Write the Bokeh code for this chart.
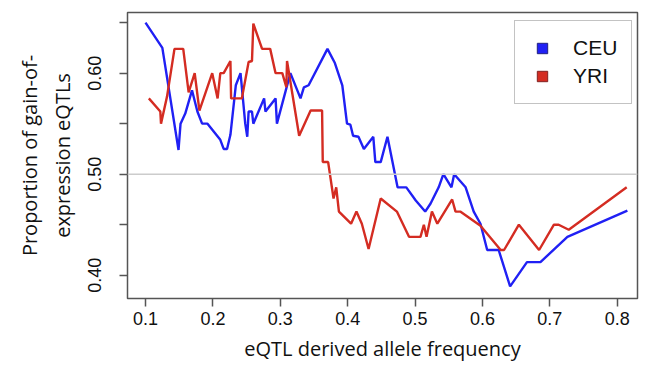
from bokeh.plotting import figure
from bokeh.models import Range1d, FixedTicker, Span, Legend, LegendItem
from bokeh.embed import file_html
from bokeh.resources import INLINE

ceu_freq = [0.100, 0.125, 0.149, 0.152, 0.159, 0.169, 0.177, 0.184, 0.192, 0.211,
            0.216, 0.221, 0.226, 0.234, 0.241, 0.248, 0.251, 0.253, 0.258, 0.260,
            0.276, 0.278, 0.293, 0.295, 0.315, 0.330, 0.335, 0.342, 0.370, 0.381,
            0.392, 0.399, 0.404, 0.408, 0.416, 0.424, 0.438, 0.441, 0.449, 0.459,
            0.474, 0.487, 0.501, 0.515, 0.523, 0.535, 0.542, 0.554, 0.558, 0.575,
            0.587, 0.597, 0.607, 0.624, 0.641, 0.666, 0.686, 0.726, 0.815]
ceu_prop = [0.650, 0.625, 0.524, 0.550, 0.560, 0.583, 0.562, 0.550, 0.550, 0.534,
            0.525, 0.525, 0.539, 0.588, 0.600, 0.550, 0.537, 0.562, 0.562, 0.550,
            0.575, 0.562, 0.575, 0.550, 0.600, 0.575, 0.586, 0.588, 0.624, 0.610,
            0.588, 0.550, 0.549, 0.538, 0.537, 0.525, 0.537, 0.512, 0.512, 0.537,
            0.487, 0.487, 0.474, 0.463, 0.471, 0.487, 0.500, 0.487, 0.500, 0.487,
            0.463, 0.451, 0.425, 0.425, 0.389, 0.413, 0.413, 0.438, 0.464]

yri_freq = [0.105, 0.122, 0.123, 0.132, 0.143, 0.156, 0.164, 0.173, 0.180, 0.199,
            0.207, 0.211, 0.216, 0.226, 0.227, 0.243, 0.253, 0.258, 0.260, 0.273,
            0.285, 0.293, 0.303, 0.309, 0.310, 0.328, 0.345, 0.362, 0.363, 0.371,
            0.379, 0.383, 0.387, 0.405, 0.413, 0.421, 0.431, 0.449, 0.473, 0.491,
            0.508, 0.513, 0.517, 0.525, 0.533, 0.555, 0.560, 0.567, 0.597, 0.627,
            0.632, 0.654, 0.684, 0.706, 0.713, 0.728, 0.814]
yri_prop = [0.575, 0.562, 0.550, 0.577, 0.624, 0.624, 0.581, 0.600, 0.563, 0.600,
            0.575, 0.600, 0.600, 0.612, 0.575, 0.575, 0.611, 0.612, 0.649, 0.624,
            0.624, 0.600, 0.600, 0.586, 0.612, 0.538, 0.563, 0.563, 0.512, 0.512,
            0.476, 0.487, 0.463, 0.451, 0.463, 0.451, 0.426, 0.476, 0.463, 0.438,
            0.438, 0.450, 0.438, 0.463, 0.451, 0.475, 0.463, 0.463, 0.449, 0.425,
            0.425, 0.450, 0.425, 0.450, 0.450, 0.445, 0.487]

x_ticks = [0.1, 0.2, 0.3, 0.4, 0.5, 0.6, 0.7, 0.8]
y_ticks = [0.40, 0.45, 0.50, 0.55, 0.60, 0.65]
y_tick_labels = {0.40: "0.40", 0.45: "", 0.50: "0.50", 0.55: "", 0.60: "0.60", 0.65: ""}

BLUE = "#2020f4"
RED = "#d42c22"

p = figure(frame_width=510, frame_height=286, output_backend="svg", toolbar_location=None,
           x_range=Range1d(0.0733, 0.830), y_range=Range1d(0.377, 0.660),
           min_border_left=127, min_border_right=2, min_border_top=12, min_border_bottom=50)
p.background_fill_color = "white"
p.border_fill_color = "white"
p.outline_line_color = "#555555"
p.outline_line_width = 1.5
p.xgrid.visible = False
p.ygrid.visible = False

p.add_layout(Span(location=0.5, dimension="width", line_color="#cccccc", line_width=1.5))

p.line(ceu_freq, ceu_prop, line_color=BLUE, line_width=2.4)
p.line(yri_freq, yri_prop, line_color=RED, line_width=2.4)

# legend swatches: a single point each, placed outside the visible range
sq_ceu = p.scatter([0.0], [0.0], marker="square", size=17, fill_color=BLUE, line_color="#202080")
sq_yri = p.scatter([0.0], [0.0], marker="square", size=17, fill_color=RED, line_color="#802020")

legend = Legend(items=[LegendItem(label="CEU", renderers=[sq_ceu]),
                       LegendItem(label="YRI", renderers=[sq_yri])],
                location=(387, 194), margin=0, padding=14, spacing=2,
                label_height=26, glyph_height=26, glyph_width=26, label_standoff=18,
                label_text_font="Liberation Sans", label_text_font_size="21px",
                label_text_color="#111111",
                border_line_color="#888888", border_line_width=1.5,
                background_fill_alpha=1.0)
p.add_layout(legend)

for ax in (p.xaxis[0], p.yaxis[0]):
    ax.axis_line_color = None
    ax.major_tick_line_color = "#555555"
    ax.major_tick_line_width = 1.5
    ax.major_tick_in = 0
    ax.major_tick_out = 8
    ax.minor_tick_line_color = None
    ax.major_label_text_font = "Liberation Sans"
    ax.major_label_text_font_size = "18px"
    ax.major_label_text_color = "#111111"
    ax.axis_label_text_font = "Open Sans"
    ax.axis_label_text_font_size = "20px"
    ax.axis_label_text_font_style = "normal"
    ax.axis_label_text_color = "#111111"

p.xaxis.ticker = FixedTicker(ticks=x_ticks)
p.yaxis.ticker = FixedTicker(ticks=y_ticks)
p.yaxis.major_label_overrides = y_tick_labels
p.yaxis.major_label_orientation = "vertical"
p.xaxis.major_label_standoff = 5
p.yaxis.major_label_standoff = 18
p.xaxis.axis_label = "eQTL derived allele frequency"
p.yaxis.axis_label = "Proportion of gain-of-\nexpression eQTLs"
p.xaxis.axis_label_standoff = 7
p.yaxis.axis_label_standoff = 10

open("out.html", "w").write(file_html(p, INLINE))
